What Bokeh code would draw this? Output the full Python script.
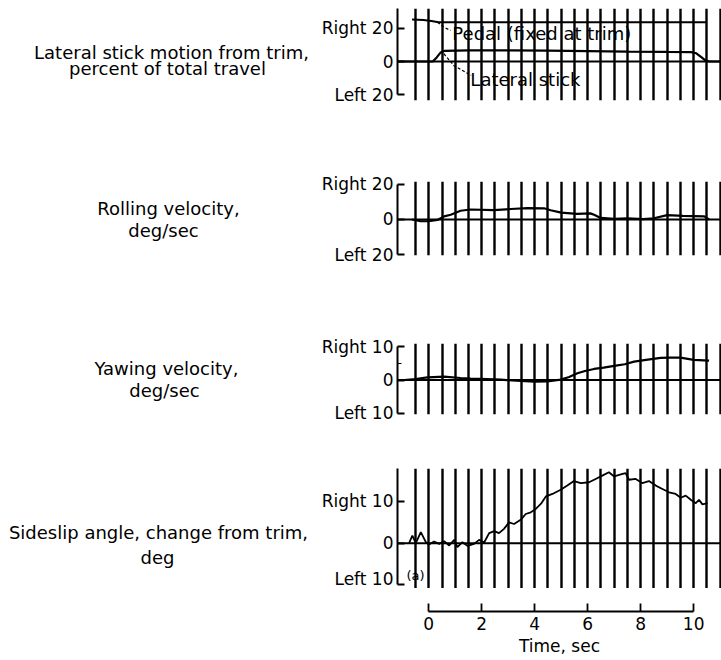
from bokeh.plotting import figure
from bokeh.models import Range1d, FixedTicker, Grid, Span
from bokeh.layouts import column, row
from bokeh.embed import file_html
from bokeh.resources import INLINE
from bokeh.core.properties import value

FONT = "DejaVu Sans"

# ---------------- data ----------------
timing_marks = [-0.5, 0.0, 0.5, 1.0, 1.5, 2.0, 2.5, 3.0, 3.5, 4.0, 4.5, 5.0,
                5.5, 6.0, 6.5, 7.0, 7.5, 8.0, 8.5, 9.0, 9.5, 10.0, 10.5, 11.0]
time_ticks = [0, 2, 4, 6, 8, 10]

# Panel 1: lateral stick / pedal, percent of total travel
pedal_t = [-0.63, -0.2, 0.1, 0.37, 2.0, 5.0, 8.0, 10.5]
pedal_v = [25.5, 25.2, 24.5, 23.8, 23.8, 23.8, 23.8, 23.8]
stick_t = [-1.2, 0.15, 0.3, 0.45, 0.6, 1.5, 3.0, 4.5, 6.0, 7.5, 9.0, 9.9, 10.1, 10.3, 10.45, 10.6, 11.05]
stick_v = [0.0, 0.0, 2.5, 5.5, 6.5, 6.7, 6.7, 6.6, 6.3, 6.0, 5.8, 5.7, 5.0, 2.5, 0.5, 0.0, 0.0]

# Panel 2: rolling velocity, deg/sec
roll_t = [-0.63, -0.31, 0.0, 0.33, 0.58, 0.83, 1.2, 1.58, 2.46, 3.1, 3.72, 4.35,
          4.6, 5.0, 5.6, 6.1, 6.24, 6.49, 7.0, 7.5, 8.1, 8.5, 9.0, 9.6, 10.4, 10.58]
roll_v = [0.0, -0.9, -1.0, -0.3, 1.8, 2.7, 5.0, 5.7, 5.3, 6.0, 6.5, 6.4,
          5.3, 3.9, 3.2, 3.5, 2.7, 0.9, 0.4, 0.7, 0.2, 0.7, 2.5, 2.1, 1.8, 0.0]

# Panel 3: yawing velocity, deg/sec
yaw_t = [-0.93, -0.5, -0.05, 0.58, 1.2, 1.58, 2.2, 2.72, 3.47, 4.0, 4.48, 4.98, 5.3,
         5.61, 5.9, 6.24, 6.6, 7.0, 7.4, 7.75, 8.2, 8.75, 9.1, 9.5, 10.0, 10.58]
yaw_v = [0.0, 0.3, 0.8, 1.0, 0.6, 0.4, 0.3, 0.1, -0.3, -0.5, -0.4, 0.1, 0.9,
         2.0, 2.7, 3.3, 3.7, 4.2, 4.7, 5.5, 6.0, 6.6, 6.7, 6.7, 6.0, 5.8]

# Panel 4: sideslip angle change from trim, deg
beta_t = [-0.74, -0.62, -0.49, -0.30, -0.11, 0.01, 0.2, 0.39, 0.58, 0.77, 0.96, 1.08,
          1.27, 1.46, 1.71, 1.9, 2.09, 2.28, 2.47, 2.65, 2.84, 3.03, 3.22, 3.47, 3.66,
          3.85, 4.04, 4.23, 4.42, 4.67, 4.98, 5.23, 5.48, 5.74, 6.05, 6.3, 6.55, 6.8,
          7.0, 7.25, 7.43, 7.56, 7.81, 8.06, 8.31, 8.57, 8.82, 9.07, 9.32, 9.51, 9.7,
          9.89, 10.08, 10.2, 10.33, 10.52]
beta_v = [0.0, 1.84, 0.0, 2.64, 0.24, -0.3, 0.4, -0.16, 0.48, -0.56, 0.8, -0.96,
          0.24, -0.64, -0.16, 0.8, 0.16, 2.4, 2.9, 2.4, 3.44, 5.0, 4.6, 5.6, 7.0,
          7.4, 8.2, 9.4, 11.2, 11.8, 12.8, 13.8, 14.9, 14.4, 14.6, 15.4, 16.2, 17.0,
          16.0, 16.5, 16.8, 15.2, 15.4, 14.4, 14.9, 13.8, 13.0, 12.2, 11.8, 10.9, 11.4,
          10.4, 9.6, 10.4, 9.3, 9.6]

# annotation leader lines (panel 1)
pedal_leader_t = [0.33, 0.55, 0.82]
pedal_leader_v = [23.8, 21.0, 18.8]
stick_leader_t = [0.57, 0.95, 1.6]
stick_leader_v = [4.7, -2.5, -8.5]

# ---------------- layout ----------------
TITLE_W = 316          # width of the left text column
PANEL_W = 721 - TITLE_W
AXIS_BORDER = 397 - TITLE_W
X0, X1 = -1.18, 11.05
x_range = Range1d(X0, X1)
TEXT_SIZE = "17px"
TITLE_SIZE = "18px"


def make_panel(height, top, bottom, y0, y1, ticks, labels, bounds, minor=None):
    yr = Range1d(y0, y1)
    p = figure(width=PANEL_W, height=height, x_range=x_range, y_range=yr,
               output_backend="svg", toolbar_location=None,
               x_axis_location=None, y_axis_location="left",
               min_border_left=AXIS_BORDER, min_border_right=0,
               min_border_top=top, min_border_bottom=bottom)
    p.outline_line_color = None
    p.background_fill_color = "white"
    p.border_fill_color = "white"
    for g in p.grid:
        g.visible = False
    grid = Grid(dimension=0, ticker=FixedTicker(ticks=timing_marks),
                grid_line_color="black", grid_line_width=2.4)
    p.add_layout(grid)
    ax = p.yaxis[0]
    ax.ticker = FixedTicker(ticks=ticks, minor_ticks=minor or [])
    ax.major_label_overrides = dict(zip(ticks, labels))
    ax.bounds = bounds
    ax.axis_line_width = 2
    ax.axis_line_color = "black"
    ax.major_tick_line_width = 2
    ax.major_tick_line_color = "black"
    ax.major_tick_in = 7
    ax.major_tick_out = 0
    ax.minor_tick_in = 4
    ax.minor_tick_out = 0
    ax.minor_tick_line_width = 1
    ax.minor_tick_line_color = "black" if minor else None
    ax.major_label_standoff = 4
    ax.major_label_text_font = FONT
    ax.major_label_text_font_size = TEXT_SIZE
    ax.major_label_text_color = "black"
    p.add_layout(Span(location=0, dimension="width", line_color="black", line_width=2))

    # left text column sharing the panel's vertical scale
    t = figure(width=TITLE_W, height=height, x_range=Range1d(0, TITLE_W), y_range=yr,
               output_backend="svg", toolbar_location=None,
               x_axis_location=None, y_axis_location=None,
               min_border_left=0, min_border_right=0,
               min_border_top=top, min_border_bottom=bottom)
    t.outline_line_color = None
    for g in t.grid:
        g.visible = False
    return p, t


def add_title(t, lines):
    xs = [l[1] for l in lines]
    ys = [l[2] for l in lines]
    txt = [l[0] for l in lines]
    t.text(x=xs, y=ys, text=txt, text_align="center", text_baseline="alphabetic",
           text_font=value(FONT), text_font_size=TITLE_SIZE, text_color="black")


# Panel 1
p1, t1 = make_panel(150, 8, 50, -23.6, 32.1, [-20, 0, 20], ["Left 20", "0", "Right 20"], (-20, 32))
p1.line(pedal_t, pedal_v, line_color="black", line_width=2)
p1.line(stick_t, stick_v, line_color="black", line_width=2.2)
p1.line(pedal_leader_t, pedal_leader_v, line_color="black", line_width=1.2, line_dash="3 2")
p1.line(stick_leader_t, stick_leader_v, line_color="black", line_width=1.2, line_dash="3 2")
p1.text(x=[0.89], y=[16.8], text=["Pedal (fixed at trim)"], text_font=value(FONT),
        text_font_size=TITLE_SIZE, text_baseline="alphabetic", text_align="left",
        text_color="black")
p1.text(x=[1.57], y=[-11.0], text=["Lateral stick"], text_font=value(FONT),
        text_font_size=TITLE_SIZE, text_baseline="alphabetic", text_align="left",
        text_color="black")
add_title(t1, [("Lateral stick motion from trim,", 171, 5.2),
               ("percent of total travel", 167, -4.3)])

# Panel 2
p2, t2 = make_panel(160, 31, 55, -20.57, 21.7, [-20, 0, 20], ["Left 20", "0", "Right 20"], (-20, 20))
p2.line(roll_t, roll_v, line_color="black", line_width=2.2)
add_title(t2, [("Rolling velocity,", 168, 6.3),
               ("deg/sec", 163, -6.1)])

# Panel 3
p3, t3 = make_panel(140, 33, 36, -10.3, 10.9, [-10, 0, 10], ["Left 10", "0", "Right 10"], (-10, 10),
                    minor=[5])
p3.line(yaw_t, yaw_v, line_color="black", line_width=2.2)
add_title(t3, [("Yawing velocity,", 166, 3.4),
               ("deg/sec", 164, -3.0)])

# Panel 4
p4, t4 = make_panel(138, 18, 0, -10.86, 17.9, [-10, 0, 10], ["Left 10", "0", "Right 10"], (-10, 17.9))
p4.line(beta_t, beta_v, line_color="black", line_width=1.8)
p4.text(x=[-0.5], y=[-7.7], text=["(a)"], text_font=value(FONT), text_font_size="13px",
        text_baseline="middle", text_align="center", text_color="black")
add_title(t4, [("Sideslip angle, change from trim,", 158, 2.5),
               ("deg", 157, -3.4)])

# Time axis
pt = figure(width=721, height=72, x_range=x_range, y_range=Range1d(0, 1),
            output_backend="svg", toolbar_location=None,
            x_axis_location="below", y_axis_location=None,
            min_border_left=397, min_border_right=0, min_border_top=0, min_border_bottom=49)
pt.outline_line_color = None
for g in pt.grid:
    g.visible = False
xa = pt.xaxis[0]
xa.ticker = FixedTicker(ticks=time_ticks)
xa.bounds = (0, 10)
xa.axis_line_width = 1.8
xa.axis_line_color = "black"
xa.major_tick_in = 8
xa.major_tick_out = 0
xa.major_tick_line_width = 1.8
xa.major_tick_line_color = "black"
xa.minor_tick_line_color = None
xa.major_label_standoff = 5
xa.major_label_text_font = FONT
xa.major_label_text_font_size = TEXT_SIZE
xa.major_label_text_color = "black"
xa.axis_label = "Time, sec"
xa.axis_label_text_font = FONT
xa.axis_label_text_font_size = TEXT_SIZE
xa.axis_label_text_font_style = "normal"
xa.axis_label_text_color = "black"
xa.axis_label_standoff = 3

layout = column(row(t1, p1, spacing=0), row(t2, p2, spacing=0), row(t3, p3, spacing=0),
                row(t4, p4, spacing=0), pt, spacing=0)
open("out.html", "w").write(file_html(layout, INLINE))
